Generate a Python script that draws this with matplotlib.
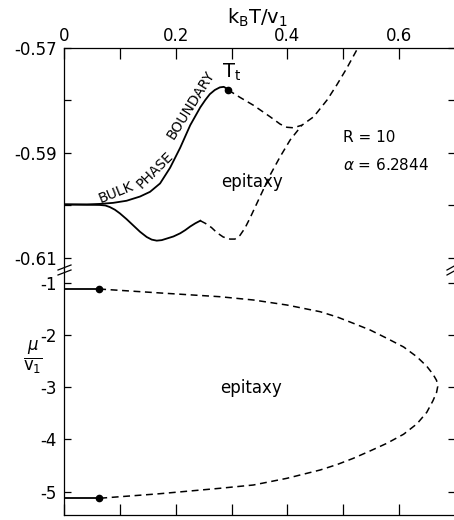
import numpy as np
import matplotlib.pyplot as plt
from matplotlib.lines import Line2D

plt.rcParams["font.family"] = ["DejaVu Sans"]
plt.rcParams["mathtext.fontset"] = "dejavusans"

# bulk phase boundary (solid) ending at the triple point T_t
bulk_x = [0.0, 0.041, 0.064, 0.088, 0.112, 0.136, 0.154, 0.172, 0.190, 0.208,
          0.226, 0.244, 0.253, 0.261, 0.270, 0.279, 0.286, 0.291, 0.294]
bulk_y = [-0.5998, -0.5998, -0.5997, -0.5995, -0.5991, -0.5983, -0.5974, -0.5958,
          -0.5928, -0.5890, -0.5847, -0.5813, -0.5799, -0.5788, -0.5780, -0.5775,
          -0.5774, -0.5777, -0.5780]

# metastable continuation above T_t (dashed)
upper_dash_x = [0.294, 0.315, 0.339, 0.369, 0.387, 0.399, 0.411, 0.426, 0.447,
                0.471, 0.488, 0.506, 0.524, 0.530]
upper_dash_y = [-0.5780, -0.5794, -0.5809, -0.5831, -0.5845, -0.5851, -0.5852,
                -0.5847, -0.5831, -0.5799, -0.5771, -0.5739, -0.5704, -0.5690]

# lower edge of the epitaxy region, solid part
lower_x = [0.0, 0.064, 0.074, 0.082, 0.091, 0.100, 0.112, 0.124, 0.136, 0.148,
           0.157, 0.166, 0.175, 0.184, 0.196, 0.208, 0.217, 0.226, 0.235, 0.244]
lower_y = [-0.5998, -0.5999, -0.6000, -0.6003, -0.6008, -0.6015, -0.6026, -0.6038,
           -0.6050, -0.6060, -0.6065, -0.6067, -0.6066, -0.6063, -0.6059, -0.6053,
           -0.6047, -0.6040, -0.6034, -0.6029]

# lower edge, dashed part joining the upper branch
lower_dash_x = [0.244, 0.253, 0.264, 0.274, 0.285, 0.297, 0.306, 0.315, 0.324,
                0.333, 0.351, 0.369, 0.387, 0.405, 0.426]
lower_dash_y = [-0.6029, -0.6034, -0.6042, -0.6052, -0.6060, -0.6064, -0.6064,
                -0.6057, -0.6043, -0.6024, -0.5983, -0.5942, -0.5907, -0.5875,
                -0.5847]

# bottom panel: solid stubs and the dashed loop
stub_top_y = -1.121
stub_bot_y = -5.126
stub_x = 0.063
loop_x = [0.063, 0.170, 0.279, 0.339, 0.399, 0.4585, 0.489, 0.518, 0.548, 0.578,
          0.608, 0.632, 0.6495, 0.6605, 0.667, 0.669,
          0.667, 0.6605, 0.6495, 0.632, 0.608, 0.578, 0.548, 0.518, 0.489,
          0.4585, 0.399, 0.339, 0.279, 0.170, 0.063]
loop_y = [-1.121, -1.195, -1.268, -1.331, -1.427, -1.555, -1.656, -1.777, -1.905,
          -2.064, -2.230, -2.420, -2.600, -2.750, -2.870, -2.990,
          -3.100, -3.260, -3.480, -3.700, -3.900, -4.074, -4.220, -4.361, -4.480,
          -4.585, -4.744, -4.872, -4.935, -5.040, -5.126]

R_label = "R = 10"
alpha_label = r"$\alpha$ = 6.2844"

fig = plt.figure(figsize=(4.54, 5.20), dpi=100)
W, H = 454.0, 520.0
left, right = 64 / W, 455 / W
ax_top = fig.add_axes([left, 1 - 269 / H, right - left, (269 - 48) / H])
ax_bot = fig.add_axes([left, 1 - 515 / H, right - left, (515 - 269) / H])

lw = 1.3
for ax in (ax_top, ax_bot):
    ax.set_xlim(0, 0.7)
    for s in ax.spines.values():
        s.set_linewidth(0.9)
    ax.tick_params(which="both", direction="in", width=0.9, labelsize=12)
    ax.tick_params(axis="y", length=5, right=True, pad=5)
    ax.tick_params(axis="x", length=8)
    ax.set_xticks(np.arange(0, 0.71, 0.1))

ax_top.set_ylim(-0.6121, -0.57)
ax_top.spines["bottom"].set_visible(False)
ax_top.tick_params(axis="x", bottom=False, top=True, labelbottom=False,
                   labeltop=True, pad=2)
ax_top.set_xticklabels(["0", "", "0.2", "", "0.4", "", "0.6", ""])
ax_top.set_yticks([-0.61, -0.60, -0.59, -0.58, -0.57])
ax_top.set_yticklabels(["-0.61", "", "-0.59", "", "-0.57"])

ax_bot.set_ylim(-5.446, -0.7378)
ax_bot.spines["top"].set_visible(False)
ax_bot.tick_params(axis="x", bottom=True, top=False, labelbottom=False)
ax_bot.set_yticks([-5, -4, -3, -2, -1])
ax_bot.set_yticklabels(["-5", "-4", "-3", "-2", "-1"])

dash = (4.5, 3.0)
ax_top.plot(bulk_x, bulk_y, color="black", lw=lw)
ax_top.plot(lower_x, lower_y, color="black", lw=lw)
ax_top.plot(upper_dash_x, upper_dash_y, color="black", lw=1.1, dashes=dash)
ax_top.plot(lower_dash_x, lower_dash_y, color="black", lw=1.1, dashes=dash)
ax_top.plot([bulk_x[-1]], [bulk_y[-1]], "o", color="black", ms=4.5)

ax_bot.plot([0, stub_x], [stub_top_y, stub_top_y], color="black", lw=lw)
ax_bot.plot([0, stub_x], [stub_bot_y, stub_bot_y], color="black", lw=lw)
ax_bot.plot(loop_x, loop_y, color="black", lw=1.1, dashes=dash)
ax_bot.plot([stub_x, stub_x], [stub_top_y, stub_bot_y], "o", color="black", ms=4.5)

# labels along the bulk phase boundary
for word, x, y, rot in [("BULK", 0.093, -0.5976, 22),
                        ("PHASE", 0.163, -0.5932, 45),
                        ("BOUNDARY", 0.2265, -0.5808, 58)]:
    ax_top.text(x, y, word, fontsize=10, rotation=rot, rotation_mode="anchor",
                ha="center", va="center")

ax_top.text(0.282, -0.5757, r"$\mathrm{T_t}$", fontsize=14, ha="left", va="baseline")
ax_top.text(0.3367, -0.5955, "epitaxy", fontsize=12, ha="center", va="center")
ax_top.text(0.4997, -0.5871, R_label, fontsize=11, ha="left", va="center")
ax_top.text(0.4997, -0.5923, alpha_label, fontsize=11, ha="left", va="center")
ax_bot.text(0.335, -3.015, "epitaxy", fontsize=12, ha="center", va="center")

fig.text(257 / W, 1 - 18 / H, r"$\mathrm{k_BT/v_1}$", fontsize=14,
         ha="center", va="center")
fig.text(33 / W, 1 - 357 / H, r"$\frac{\mu}{\mathrm{v_1}}$", fontsize=17,
         ha="center", va="center")

# axis-break marks on both sides
for x0, x1 in [(58, 71), (447, 456)]:
    for y0 in (266, 271):
        fig.add_artist(Line2D([x0 / W, x1 / W], [1 - (y0 + 4) / H, 1 - (y0 - 1) / H],
                              color="black", lw=0.9, transform=fig.transFigure))

fig.savefig("out.png", dpi=100)
